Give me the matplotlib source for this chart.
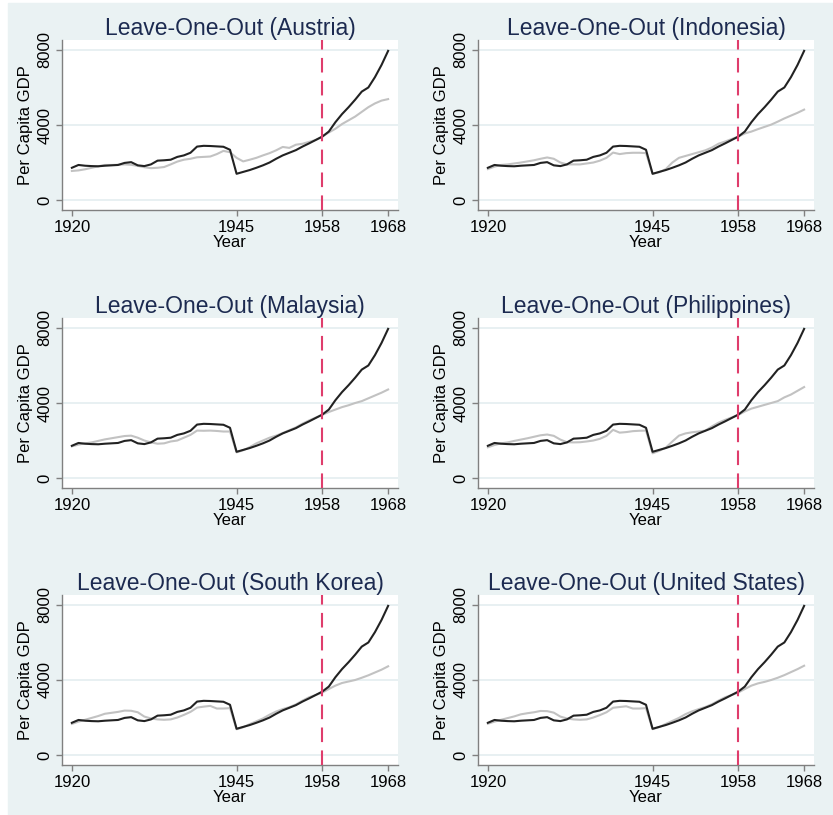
import matplotlib.pyplot as plt
import numpy as np
from matplotlib.patches import Rectangle

plt.rcParams['font.family'] = ['Liberation Sans', 'DejaVu Sans']

years = list(range(1920, 1969))

# Japan, actual per capita GDP (same in every panel)
japan = [1720, 1870, 1830, 1810, 1800, 1830, 1850, 1870, 1980, 2020,
         1850, 1810, 1900, 2100, 2120, 2150, 2300, 2380, 2520, 2850,
         2890, 2880, 2860, 2840, 2680, 1400, 1500, 1600, 1720, 1850,
         2000, 2200, 2380, 2520, 2660, 2850, 3020, 3200, 3380, 3650,
         4150, 4580, 4950, 5350, 5780, 6000, 6550, 7200, 7950]

# synthetic Japan, leaving one donor out
synth_austria = [1550, 1580, 1640, 1720, 1800, 1870, 1870, 1880, 1900, 1880,
                 1820, 1750, 1700, 1720, 1760, 1900, 2050, 2150, 2200, 2280,
                 2300, 2320, 2450, 2620, 2550, 2250, 2060, 2150, 2250, 2380,
                 2500, 2650, 2830, 2780, 2950, 3000, 3100, 3200, 3380, 3600,
                 3800, 4050, 4250, 4450, 4700, 4950, 5150, 5300, 5380]
synth_indonesia = [1650, 1780, 1870, 1900, 1950, 2000, 2060, 2120, 2200, 2270,
                   2200, 2000, 1900, 1900, 1900, 1950, 2000, 2100, 2250, 2530,
                   2450, 2500, 2520, 2520, 2500, 1400, 1480, 1650, 2000, 2250,
                   2350, 2450, 2550, 2650, 2800, 3000, 3120, 3250, 3380, 3550,
                   3650, 3780, 3900, 4020, 4180, 4350, 4500, 4650, 4820]
synth_malaysia = [1690, 1780, 1850, 1900, 1980, 2060, 2120, 2180, 2240, 2260,
                  2150, 2000, 1900, 1830, 1850, 1950, 2000, 2150, 2300, 2530,
                  2520, 2530, 2510, 2480, 2480, 1370, 1480, 1650, 1850, 2000,
                  2150, 2260, 2400, 2550, 2700, 2900, 3070, 3220, 3370, 3520,
                  3650, 3780, 3880, 4000, 4100, 4250, 4400, 4550, 4720]
synth_philippines = [1640, 1760, 1850, 1900, 1980, 2050, 2120, 2200, 2280, 2320,
                     2250, 2050, 1910, 1900, 1910, 1950, 2000, 2090, 2250, 2570,
                     2420, 2450, 2500, 2520, 2530, 1320, 1450, 1620, 1950, 2260,
                     2380, 2440, 2480, 2530, 2750, 2950, 3100, 3230, 3360, 3550,
                     3700, 3800, 3900, 4000, 4100, 4300, 4450, 4650, 4850]
synth_korea = [1660, 1780, 1880, 1980, 2080, 2200, 2250, 2300, 2370, 2360,
               2280, 2050, 1950, 1900, 1880, 1900, 2000, 2140, 2300, 2530,
               2580, 2620, 2480, 2480, 2500, 1375, 1480, 1650, 1800, 1950,
               2150, 2320, 2450, 2550, 2700, 2900, 3080, 3200, 3330, 3520,
               3700, 3840, 3920, 4000, 4120, 4250, 4400, 4550, 4730]
synth_usa = [1670, 1780, 1880, 1970, 2060, 2170, 2230, 2280, 2350, 2340,
             2260, 2050, 1950, 1900, 1880, 1900, 2000, 2130, 2280, 2520,
             2560, 2600, 2480, 2480, 2500, 1380, 1490, 1660, 1820, 1980,
             2180, 2330, 2450, 2560, 2710, 2900, 3080, 3200, 3330, 3520,
             3700, 3820, 3900, 4000, 4120, 4260, 4420, 4580, 4760]

countries = ['Austria', 'Indonesia', 'Malaysia', 'Philippines',
             'South Korea', 'United States']
synths = [synth_austria, synth_indonesia, synth_malaysia, synth_philippines,
          synth_korea, synth_usa]

treat_year = 1958
xticks = [1920, 1945, 1958, 1968]
yticks = [0, 4000, 8000]

W, H = 833, 815
fig = plt.figure(figsize=(W / 100, H / 100), dpi=100)
fig.patch.set_facecolor('white')
fig.add_artist(Rectangle((8 / W, 0), 1 - 8 / W, 1 - 3 / H,
                         transform=fig.transFigure, color='#eaf2f3', zorder=-10))

col_left = [62, 478]
row_top = [40, 318, 595]
ax_w, ax_h = 336, 170

for i, (name, synth) in enumerate(zip(countries, synths)):
    r, c = divmod(i, 2)
    ax = fig.add_axes([col_left[c] / W, 1 - (row_top[r] + ax_h) / H, ax_w / W, ax_h / H])
    ax.set_facecolor('white')
    for y in yticks:
        ax.axhline(y, color='#e4edf0', lw=1.2, zorder=0)
    ax.plot(years, synth, color='#c2c2c2', lw=1.5, zorder=2)
    ax.plot(years, japan, color='#222222', lw=1.5, zorder=3)
    ax.axvline(treat_year, color='#df3d6c', lw=1.5, dashes=(7, 4), zorder=4)

    ax.set_xlim(1918.5, 1969.5)
    ax.set_ylim(-530, 8530)
    ax.set_xticks(xticks)
    ax.set_yticks(yticks)
    for s in ['top', 'right']:
        ax.spines[s].set_visible(False)
    for s in ['left', 'bottom']:
        ax.spines[s].set_color('#808080')
        ax.spines[s].set_linewidth(1.0)
    ax.tick_params(colors='#808080', length=4, width=1.0, labelcolor='black',
                   labelsize=12, pad=3)
    for lab in ax.get_yticklabels():
        lab.set_rotation(90)
        lab.set_va('center')
    ax.set_xlabel('Year', fontsize=12, labelpad=0)
    ax.set_ylabel('Per Capita GDP', fontsize=12, labelpad=3)
    ax.set_title(f'Leave-One-Out ({name})', fontsize=16.5, color='#1c2a50', pad=3)

fig.savefig('out.png', dpi=100, facecolor=fig.get_facecolor())
